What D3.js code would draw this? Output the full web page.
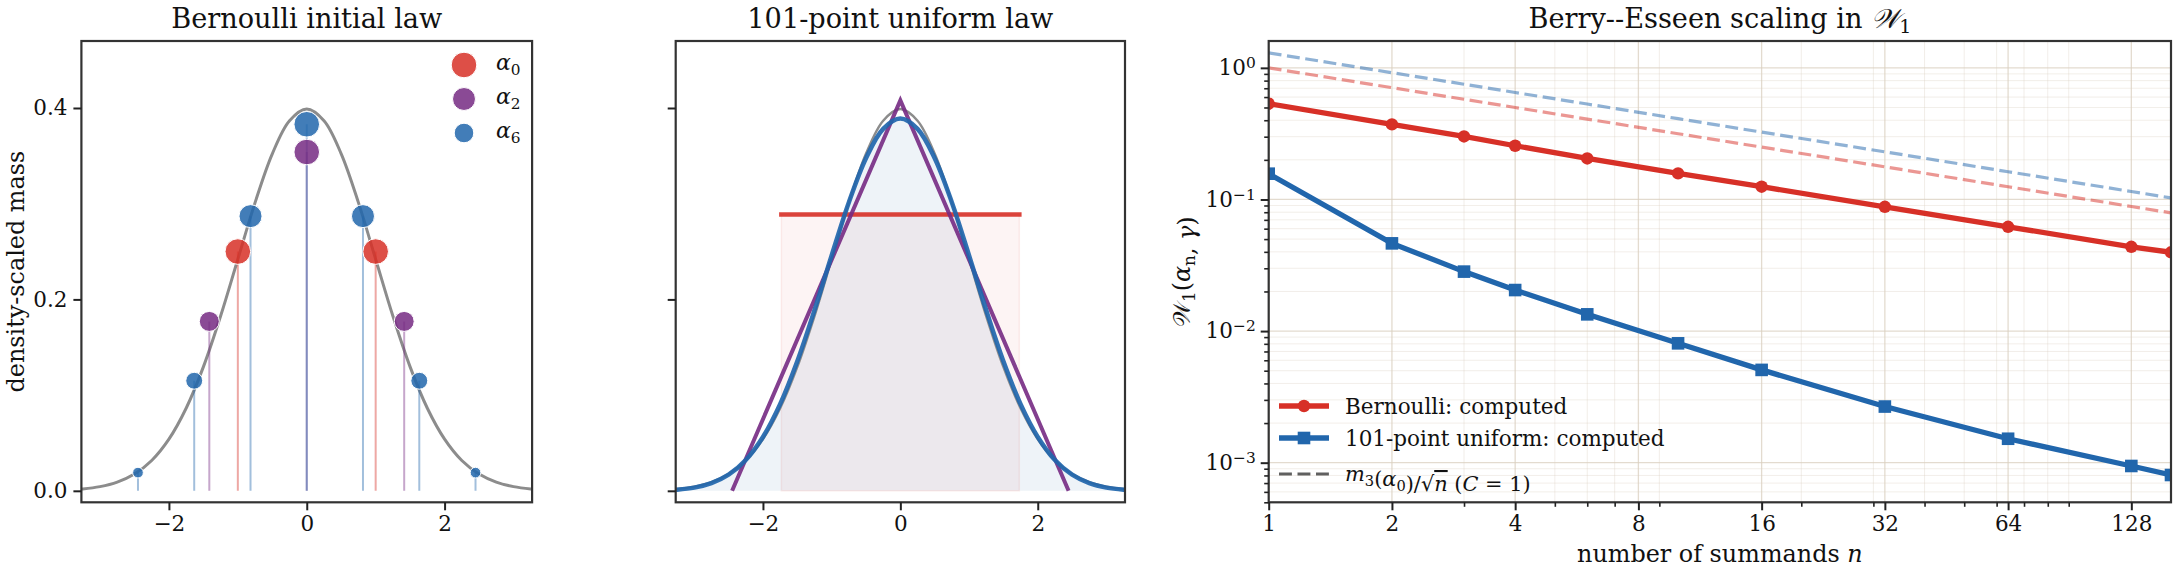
<!DOCTYPE html>
<html>
<head>
<meta charset="utf-8">
<script src="https://cdn.jsdelivr.net/npm/d3@7"></script>
<style>
  body { margin: 0; background: #fff; }
  svg text { font-family: "DejaVu Serif", serif; fill: #111; }
</style>
</head>
<body>
<svg id="fig" width="2176" height="573"></svg>
<script>
// ---- data ----
// grid for the smooth curves
const gridX   = [-3.5,-3.25,-3,-2.75,-2.5,-2.25,-2,-1.75,-1.5,-1.25,-1,-0.75,-0.5,-0.25,0,
                 0.25,0.5,0.75,1,1.25,1.5,1.75,2,2.25,2.5,2.75,3,3.25,3.5];
// standard normal density (grey reference curve)
const normalY = [0.0009,0.0020,0.0044,0.0091,0.0175,0.0317,0.0540,0.0863,0.1295,0.1826,0.2420,0.3011,0.3521,0.3867,0.3989,
                 0.3867,0.3521,0.3011,0.2420,0.1826,0.1295,0.0863,0.0540,0.0317,0.0175,0.0091,0.0044,0.0020,0.0009];
// 101-point uniform law after 6 summands (blue curve, panel 2)
const sum6Y   = [0.0004,0.0012,0.0033,0.0080,0.0168,0.0322,0.0563,0.0906,0.1354,0.1886,0.2460,0.3013,0.3475,0.3782,0.3889,
                 0.3782,0.3475,0.3013,0.2460,0.1886,0.1354,0.0906,0.0563,0.0322,0.0168,0.0080,0.0033,0.0012,0.0004];

// Bernoulli atoms (density-scaled masses)
const alpha0X = [-1, 1];
const alpha0Y = [0.25, 0.25];
const alpha2X = [-1.414, 0, 1.414];
const alpha2Y = [0.177, 0.354, 0.177];
const alpha6X = [-2.449, -1.633, -0.816, 0, 0.816, 1.633, 2.449];
const alpha6Y = [0.019, 0.115, 0.287, 0.383, 0.287, 0.115, 0.019];

// uniform initial law (red) and 2-fold convolution (purple triangle)
const unifX = [-1.732, 1.732];
const unifY = [0.2887, 0.2887];
const triX  = [-2.449, 0, 2.449];
const triY  = [0, 0.408, 0];

// Berry--Esseen panel
const nValues   = [1, 2, 3, 4, 6, 10, 16, 32, 64, 128, 160];
const bernW1    = [0.535, 0.372, 0.301, 0.256, 0.205, 0.158, 0.125, 0.088, 0.062, 0.0437, 0.0397];
const unifW1    = [0.157, 0.0464, 0.0283, 0.0205, 0.0134, 0.00807, 0.00507, 0.00267, 0.00152, 0.000944, 0.000806];
const bernBound = [1.0, 0.707, 0.577, 0.5, 0.408, 0.316, 0.25, 0.177, 0.125, 0.0884, 0.0791];
const unifBound = [1.30, 0.919, 0.751, 0.65, 0.531, 0.411, 0.325, 0.230, 0.1625, 0.1149, 0.1028];

const densTicks = [0, 0.2, 0.4];
const xTicks    = [-2, 0, 2];
const nTicks    = [1, 2, 4, 8, 16, 32, 64, 128];
const nMinor    = [3, 5, 6, 7, 9, 20, 30, 40, 50, 60, 70, 80, 90];
const wTicks    = [1, 0.1, 0.01, 0.001];

// ---- layout ----
const RED = '#d73027', PURPLE = '#762a83', BLUE = '#2166ac', GREY = '#8c8c8c';
const P1 = {l: 81.4,   r: 532.1, t: 41, b: 502.3};
const P2 = {l: 675.7,  r: 1125,  t: 41, b: 502.3};
const P3 = {l: 1268.7, r: 2171,  t: 41, b: 502.3};

const svg = d3.select('#fig');
const defs = svg.append('defs');

// sizes below are DejaVu Serif sizes; rescale if another face got picked
const probe = svg.append('text').attr('font-size', 100).text('Bernoulli: computed');
let fK = 1029 / probe.node().getComputedTextLength();
probe.remove();
if (!(fK > 0.8 && fK < 1.3)) fK = 1;
const fs = s => s * fK;

const TICK = fs(21.6), LABEL = fs(24), TITLE = fs(27.3), LEG = fs(21.6);

function clipFor(id, P) {
  defs.append('clipPath').attr('id', id)
    .append('rect').attr('x', P.l).attr('y', P.t).attr('width', P.r - P.l).attr('height', P.b - P.t);
  return 'url(#' + id + ')';
}

function frame(P) {
  svg.append('rect')
    .attr('x', P.l).attr('y', P.t).attr('width', P.r - P.l).attr('height', P.b - P.t)
    .attr('fill', 'none').attr('stroke', '#333').attr('stroke-width', 2.2);
}

function styleAxis(g, size) {
  g.attr('font-family', null).attr('font-size', null);
  g.select('.domain').remove();
  g.selectAll('.tick line').attr('stroke', '#222').attr('stroke-width', size || 2);
  g.selectAll('.tick text').attr('font-size', TICK).attr('fill', '#111');
  return g;
}

function title(P, txt) {
  return svg.append('text')
    .attr('x', (P.l + P.r) / 2).attr('y', 28)
    .attr('text-anchor', 'middle').attr('font-size', TITLE)
    .text(txt);
}

// add "base + subscript" pieces to a text element
function mathSub(t, base, sub, italic) {
  t.append('tspan').attr('font-style', italic === false ? null : 'italic').text(base);
  t.append('tspan').attr('font-size', '0.7em').attr('dy', 5).text(sub);
  t.append('tspan').attr('dy', -5).text('');
}

// ---- panel 1: Bernoulli initial law ----
const x1 = d3.scaleLinear().domain([-3.27, 3.27]).range([P1.l, P1.r]);
const yD = d3.scaleLinear().domain([-0.012, 0.47]).range([P1.b, P1.t]);
const g1 = svg.append('g').attr('clip-path', clipFor('c1', P1));

const curve1 = d3.line().x(d => x1(d[0])).y(d => yD(d[1])).curve(d3.curveCatmullRom);
g1.append('path').datum(d3.zip(gridX, normalY))
  .attr('d', curve1).attr('fill', 'none').attr('stroke', GREY).attr('stroke-width', 3);

const rScale = d3.scaleSqrt().domain([0, 1]).range([3.2, 12.8]);
const atomSeries = [
  {xs: alpha0X, ys: alpha0Y, color: RED,    sub: '0'},
  {xs: alpha2X, ys: alpha2Y, color: PURPLE, sub: '2'},
  {xs: alpha6X, ys: alpha6Y, color: BLUE,   sub: '6'}
];
atomSeries.forEach(s => {
  const ymax = d3.max(s.ys);
  s.pts = d3.zip(s.xs, s.ys).map(d => ({x: d[0], y: d[1], r: rScale(d[1] / ymax)}));
});
atomSeries.forEach(s => {
  g1.selectAll(null).data(s.pts).enter().append('line')
    .attr('x1', d => x1(d.x)).attr('x2', d => x1(d.x))
    .attr('y1', yD(0)).attr('y2', d => yD(d.y))
    .attr('stroke', s.color).attr('stroke-opacity', 0.42).attr('stroke-width', 2);
});
atomSeries.forEach(s => {
  g1.selectAll(null).data(s.pts).enter().append('circle')
    .attr('cx', d => x1(d.x)).attr('cy', d => yD(d.y)).attr('r', d => d.r)
    .attr('fill', s.color).attr('fill-opacity', 0.85)
    .attr('stroke', '#fff').attr('stroke-width', 1);
});

frame(P1);
styleAxis(svg.append('g').attr('transform', `translate(0,${P1.b})`)
  .call(d3.axisBottom(x1).tickValues(xTicks).tickFormat(d3.format('d')).tickSize(8).tickPadding(5).tickSizeOuter(0)));
styleAxis(svg.append('g').attr('transform', `translate(${P1.l},0)`)
  .call(d3.axisLeft(yD).tickValues(densTicks).tickFormat(d3.format('.1f')).tickSize(8).tickPadding(6).tickSizeOuter(0)));
title(P1, 'Bernoulli initial law');
svg.append('text').attr('font-size', LABEL).attr('text-anchor', 'middle')
  .attr('transform', `translate(24,${(P1.t + P1.b) / 2}) rotate(-90)`)
  .text('density-scaled mass');

// legend panel 1
const leg1 = svg.append('g');
atomSeries.forEach((s, i) => {
  const rs = s.pts.map(p => p.r);
  const rl = Math.sqrt((d3.min(rs) ** 2 + d3.max(rs) ** 2) / 2);
  const y = 65 + i * 34;
  leg1.append('circle').attr('cx', 464).attr('cy', y).attr('r', rl)
    .attr('fill', s.color).attr('fill-opacity', 0.85).attr('stroke', '#fff').attr('stroke-width', 1);
  const t = leg1.append('text').attr('x', 496).attr('y', y + 5).attr('font-size', fs(22));
  mathSub(t, 'α', s.sub);
});

// ---- panel 2: 101-point uniform law ----
const x2 = d3.scaleLinear().domain([-3.27, 3.27]).range([P2.l, P2.r]);
const g2 = svg.append('g').attr('clip-path', clipFor('c2', P2));
const curve2 = d3.line().x(d => x2(d[0])).y(d => yD(d[1])).curve(d3.curveCatmullRom);
const area2 = d3.area().x(d => x2(d[0])).y0(yD(0)).y1(d => yD(d[1])).curve(d3.curveCatmullRom);

g2.append('path').datum(d3.zip(gridX, sum6Y)).attr('d', area2)
  .attr('fill', BLUE).attr('fill-opacity', 0.08);
g2.append('rect')
  .attr('x', x2(unifX[0])).attr('width', x2(unifX[1]) - x2(unifX[0]))
  .attr('y', yD(unifY[0])).attr('height', yD(0) - yD(unifY[0]))
  .attr('fill', RED).attr('fill-opacity', 0.05)
  .attr('stroke', RED).attr('stroke-opacity', 0.08).attr('stroke-width', 1.5);
g2.append('path').datum(d3.zip(gridX, normalY)).attr('d', curve2)
  .attr('fill', 'none').attr('stroke', GREY).attr('stroke-width', 2.5);
g2.append('path').datum(d3.zip(unifX, unifY))
  .attr('d', d3.line().x(d => x2(d[0])).y(d => yD(d[1])))
  .attr('fill', 'none').attr('stroke', RED).attr('stroke-opacity', 0.9).attr('stroke-width', 4.5)
  .attr('stroke-linecap', 'square');
g2.append('path').datum(d3.zip(triX, triY))
  .attr('d', d3.line().x(d => x2(d[0])).y(d => yD(d[1])))
  .attr('fill', 'none').attr('stroke', PURPLE).attr('stroke-opacity', 0.9).attr('stroke-width', 4);
g2.append('path').datum(d3.zip(gridX, sum6Y)).attr('d', curve2)
  .attr('fill', 'none').attr('stroke', BLUE).attr('stroke-opacity', 0.92).attr('stroke-width', 4.5);

frame(P2);
styleAxis(svg.append('g').attr('transform', `translate(0,${P2.b})`)
  .call(d3.axisBottom(x2).tickValues(xTicks).tickFormat(d3.format('d')).tickSize(8).tickPadding(5).tickSizeOuter(0)));
styleAxis(svg.append('g').attr('transform', `translate(${P2.l},0)`)
  .call(d3.axisLeft(yD).tickValues(densTicks).tickFormat('').tickSize(8).tickSizeOuter(0)));
title(P2, '101-point uniform law');

// ---- panel 3: Berry--Esseen scaling ----
const x3 = d3.scaleLog().base(2).domain([1, 160]).range([P3.l, P3.r]);
const y3 = d3.scaleLog().domain([5e-4, 1.6]).range([P3.b, P3.t]);
const yMinor = y3.ticks().filter(v => Math.abs(Math.log10(v) - Math.round(Math.log10(v))) > 1e-6);
const g3 = svg.append('g').attr('clip-path', clipFor('c3', P3));

// grid
g3.selectAll(null).data(nMinor).enter().append('line')
  .attr('x1', d => x3(d)).attr('x2', d => x3(d)).attr('y1', P3.t).attr('y2', P3.b)
  .attr('stroke', '#d9cfbf').attr('stroke-opacity', 0.35).attr('stroke-width', 1);
g3.selectAll(null).data(yMinor).enter().append('line')
  .attr('y1', d => y3(d)).attr('y2', d => y3(d)).attr('x1', P3.l).attr('x2', P3.r)
  .attr('stroke', '#d9cfbf').attr('stroke-opacity', 0.35).attr('stroke-width', 1);
g3.selectAll(null).data(nTicks).enter().append('line')
  .attr('x1', d => x3(d)).attr('x2', d => x3(d)).attr('y1', P3.t).attr('y2', P3.b)
  .attr('stroke', '#d9cfbf').attr('stroke-opacity', 0.75).attr('stroke-width', 1.3);
g3.selectAll(null).data(wTicks).enter().append('line')
  .attr('y1', d => y3(d)).attr('y2', d => y3(d)).attr('x1', P3.l).attr('x2', P3.r)
  .attr('stroke', '#d9cfbf').attr('stroke-opacity', 0.75).attr('stroke-width', 1.3);

const line3 = d3.line().x(d => x3(d[0])).y(d => y3(d[1]));
[[unifBound, BLUE], [bernBound, RED]].forEach(([vals, col]) => {
  g3.append('path').datum(d3.zip(nValues, vals)).attr('d', line3)
    .attr('fill', 'none').attr('stroke', col).attr('stroke-opacity', 0.5)
    .attr('stroke-width', 3.2).attr('stroke-dasharray', '12.9,5.6');
});

g3.append('path').datum(d3.zip(nValues, bernW1)).attr('d', line3)
  .attr('fill', 'none').attr('stroke', RED).attr('stroke-width', 5.3);
g3.selectAll(null).data(d3.zip(nValues, bernW1)).enter().append('circle')
  .attr('cx', d => x3(d[0])).attr('cy', d => y3(d[1])).attr('r', 6.2).attr('fill', RED);
g3.append('path').datum(d3.zip(nValues, unifW1)).attr('d', line3)
  .attr('fill', 'none').attr('stroke', BLUE).attr('stroke-width', 5.3);
g3.selectAll(null).data(d3.zip(nValues, unifW1)).enter().append('rect')
  .attr('x', d => x3(d[0]) - 6.3).attr('y', d => y3(d[1]) - 6.3)
  .attr('width', 12.6).attr('height', 12.6).attr('fill', BLUE);

frame(P3);
styleAxis(svg.append('g').attr('transform', `translate(0,${P3.b})`)
  .call(d3.axisBottom(x3).tickValues(nTicks).tickFormat(d3.format('d')).tickSize(8).tickPadding(5).tickSizeOuter(0)));
styleAxis(svg.append('g').attr('transform', `translate(0,${P3.b})`)
  .call(d3.axisBottom(x3).tickValues(nMinor).tickFormat('').tickSize(4.5).tickSizeOuter(0)), 1.6);
const yAx = styleAxis(svg.append('g').attr('transform', `translate(${P3.l},0)`)
  .call(d3.axisLeft(y3).tickValues(wTicks).tickFormat('').tickSize(8).tickPadding(5).tickSizeOuter(0)));
styleAxis(svg.append('g').attr('transform', `translate(${P3.l},0)`)
  .call(d3.axisLeft(y3).tickValues(yMinor).tickFormat('').tickSize(4.5).tickSizeOuter(0)), 1.6);
yAx.selectAll('.tick text').each(function(d) {
  const e = Math.round(Math.log10(d));
  const t = d3.select(this).attr('x', -13).attr('dy', '0.32em');
  t.append('tspan').text('10');
  t.append('tspan').attr('font-size', fs(15.5)).attr('dy', -7).text(e === 0 ? '0' : '\u2212' + Math.abs(e));
});

const t3 = title(P3, 'Berry--Esseen scaling in ');
t3.append('tspan').attr('font-style', 'italic').text('\u{1D4B2}');
t3.append('tspan').attr('font-size', '0.7em').attr('dy', 5).text('1');

const xl = svg.append('text').attr('x', (P3.l + P3.r) / 2).attr('y', 562)
  .attr('text-anchor', 'middle').attr('font-size', LABEL).text('number of summands ');
xl.append('tspan').attr('font-style', 'italic').text('n');

const yl = svg.append('text').attr('font-size', LABEL).attr('text-anchor', 'middle')
  .attr('transform', `translate(1190,${(P3.t + P3.b) / 2}) rotate(-90)`);
yl.append('tspan').text('\u{1D4B2}');
yl.append('tspan').attr('font-size', '0.7em').attr('dy', 5).text('1');
yl.append('tspan').attr('dy', -5).text('(');
mathSub(yl, 'α', 'n');
yl.append('tspan').text(', ');
yl.append('tspan').attr('font-style', 'italic').text('γ');
yl.append('tspan').text(')');

// legend panel 3
const leg3 = svg.append('g');
const lx0 = 1279, lx1 = 1329, ltx = 1345;
[[406, RED, 'circle', 'Bernoulli: computed'], [438, BLUE, 'square', '101-point uniform: computed']]
  .forEach(([y, col, shape, lab]) => {
    leg3.append('line').attr('x1', lx0).attr('x2', lx1).attr('y1', y).attr('y2', y)
      .attr('stroke', col).attr('stroke-width', 5.3);
    if (shape === 'circle') leg3.append('circle').attr('cx', (lx0 + lx1) / 2).attr('cy', y).attr('r', 6.2).attr('fill', col);
    else leg3.append('rect').attr('x', (lx0 + lx1) / 2 - 6.3).attr('y', y - 6.3).attr('width', 12.6).attr('height', 12.6).attr('fill', col);
    leg3.append('text').attr('x', ltx).attr('y', y + 8).attr('font-size', LEG).text(lab);
  });
leg3.append('line').attr('x1', lx0).attr('x2', lx1).attr('y1', 474).attr('y2', 474)
  .attr('stroke', '#444').attr('stroke-opacity', 0.85).attr('stroke-width', 3.2).attr('stroke-dasharray', '12.9,5.6');
const lt = leg3.append('text').attr('x', ltx).attr('y', 481).attr('font-size', fs(21));
mathSub(lt, 'm', '3');
lt.append('tspan').text('(');
mathSub(lt, 'α', '0');
lt.append('tspan').text(')/√');
lt.append('tspan').attr('font-style', 'italic').attr('text-decoration', 'overline').text('n');
lt.append('tspan').text(' (');
lt.append('tspan').attr('font-style', 'italic').text('C');
lt.append('tspan').text(' = 1)');
</script>
</body>
</html>
